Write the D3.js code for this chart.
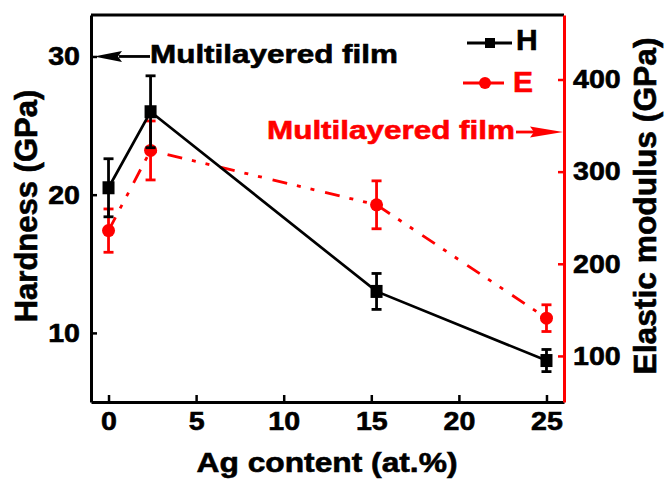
<!DOCTYPE html>
<html>
<head>
<meta charset="utf-8">
<script src="https://cdn.jsdelivr.net/npm/d3@7/dist/d3.min.js"></script>
<style>
  body { margin: 0; background: #fff; }
  text { font-family: "Liberation Sans", Arial, sans-serif; font-weight: bold; stroke-width: 0.6; }
</style>
</head>
<body>
<div class="chart-container"></div>
<script>
/********** the Data **********/
const agContent = [0, 2.4, 15.3, 25];
const hardness = [20.5, 26.0, 13.0, 8.0];
const hardnessErr = [2.1, 2.6, 1.3, 0.8];
const modulus = [236, 323, 264, 141];
const modulusErr = [23.5, 32, 26, 14.5];

const xTicks = [0, 5, 10, 15, 20, 25];
const hTicks = [10, 20, 30];
const eTicks = [100, 200, 300, 400];

// values of the multilayered film, pointed at by the arrows
const filmHardness = 30;
const filmModulus = 343;

/********** chart setup **********/
let width = 665, height = 479;
let margin = {top: 15, right: 101, bottom: 77, left: 91};

let svg = d3.select(".chart-container")
  .append("svg")
    .attr("width", width)
    .attr("height", height);

let xScale = d3.scaleLinear()
  .domain([-1, 26])
  .range([margin.left, width - margin.right]);

let yH = d3.scaleLinear()
  .domain([5, 33])
  .range([height - margin.bottom, margin.top]);

let yE = d3.scaleLinear()
  .domain([50, 470])
  .range([height - margin.bottom, margin.top]);

let pts = agContent.map((x, i) => ({
  x: x, h: hardness[i], he: hardnessErr[i], e: modulus[i], ee: modulusErr[i]
}));

// stretch tick labels a little to match the wide font of the original
function styleTicks(g, color) {
  g.selectAll("text")
    .attr("font-size", 26)
    .attr("font-family", "Liberation Sans, Arial, sans-serif")
    .attr("font-weight", "bold")
    .attr("fill", "#000")
    .attr("stroke", "#000")
    .each(function () {
      let len = this.getComputedTextLength();
      d3.select(this).attr("textLength", len * 1.1).attr("lengthAdjust", "spacingAndGlyphs");
    });
  g.selectAll("line").attr("stroke", color).attr("stroke-width", 2.5);
  g.select(".domain").attr("stroke", color).attr("stroke-width", 3);
}

/***** axes *****/
// top frame line
svg.append("line")
  .attr("x1", xScale.range()[0]).attr("x2", xScale.range()[1])
  .attr("y1", margin.top).attr("y2", margin.top)
  .attr("stroke", "#000").attr("stroke-width", 3);

svg.append("g")
  .attr("class", "x-axis")
  .attr("transform", `translate(0, ${height - margin.bottom})`)
  .call(d3.axisBottom(xScale).tickValues(xTicks).tickSizeInner(-7).tickSizeOuter(0).tickPadding(10))
  .call(g => styleTicks(g, "#000"));

svg.append("g")
  .attr("class", "y-axis-h")
  .attr("transform", `translate(${margin.left}, 0)`)
  .call(d3.axisLeft(yH).tickValues(hTicks).tickSizeInner(-6).tickSizeOuter(0).tickPadding(11))
  .call(g => styleTicks(g, "#000"));

svg.append("g")
  .attr("class", "y-axis-e")
  .attr("transform", `translate(${width - margin.right}, 0)`)
  .call(d3.axisRight(yE).tickValues(eTicks).tickSizeInner(-6).tickSizeOuter(0).tickPadding(9))
  .call(g => styleTicks(g, "#f00"));

// axis titles
svg.append("text")
  .attr("x", 327).attr("y", 472)
  .attr("text-anchor", "middle")
  .attr("font-size", 28)
  .attr("stroke", "#000")
  .attr("textLength", 261).attr("lengthAdjust", "spacingAndGlyphs")
  .text("Ag content (at.%)");

svg.append("text")
  .attr("transform", "translate(37, 206) rotate(-90)")
  .attr("text-anchor", "middle")
  .attr("font-size", 31)
  .attr("stroke", "#000")
  .text("Hardness (GPa)");

svg.append("text")
  .attr("transform", "translate(656, 206) rotate(-90)")
  .attr("text-anchor", "middle")
  .attr("font-size", 31)
  .attr("stroke", "#000")
  .attr("textLength", 337).attr("lengthAdjust", "spacingAndGlyphs")
  .text("Elastic modulus (GPa)");

/***** E series (red, dash-dot-dot) *****/
let lineE = d3.line().x(d => xScale(d.x)).y(d => yE(d.e));
svg.append("path")
  .datum(pts)
  .attr("d", lineE)
  .attr("fill", "none")
  .attr("stroke", "#f00")
  .attr("stroke-width", 2.8)
  .attr("stroke-dasharray", "15,10,4,10,4,11");

let errE = svg.append("g").attr("stroke", "#f00").attr("stroke-width", 2.8);
errE.selectAll(".bar").data(pts).enter().append("line")
  .attr("x1", d => xScale(d.x)).attr("x2", d => xScale(d.x))
  .attr("y1", d => yE(d.e - d.ee)).attr("y2", d => yE(d.e + d.ee));
errE.selectAll(".capT").data(pts).enter().append("line")
  .attr("x1", d => xScale(d.x) - 5).attr("x2", d => xScale(d.x) + 5)
  .attr("y1", d => yE(d.e + d.ee)).attr("y2", d => yE(d.e + d.ee));
errE.selectAll(".capB").data(pts).enter().append("line")
  .attr("x1", d => xScale(d.x) - 5).attr("x2", d => xScale(d.x) + 5)
  .attr("y1", d => yE(d.e - d.ee)).attr("y2", d => yE(d.e - d.ee));

svg.selectAll(".dotE").data(pts).enter().append("circle")
  .attr("cx", d => xScale(d.x))
  .attr("cy", d => yE(d.e))
  .attr("r", 6.5)
  .attr("fill", "#f00");

/***** H series (black, solid) *****/
let lineH = d3.line().x(d => xScale(d.x)).y(d => yH(d.h));
svg.append("path")
  .datum(pts)
  .attr("d", lineH)
  .attr("fill", "none")
  .attr("stroke", "#000")
  .attr("stroke-width", 2.7);

let errH = svg.append("g").attr("stroke", "#000").attr("stroke-width", 2.8);
errH.selectAll(".bar").data(pts).enter().append("line")
  .attr("x1", d => xScale(d.x)).attr("x2", d => xScale(d.x))
  .attr("y1", d => yH(d.h - d.he)).attr("y2", d => yH(d.h + d.he));
errH.selectAll(".capT").data(pts).enter().append("line")
  .attr("x1", d => xScale(d.x) - 5).attr("x2", d => xScale(d.x) + 5)
  .attr("y1", d => yH(d.h + d.he)).attr("y2", d => yH(d.h + d.he));
errH.selectAll(".capB").data(pts).enter().append("line")
  .attr("x1", d => xScale(d.x) - 5).attr("x2", d => xScale(d.x) + 5)
  .attr("y1", d => yH(d.h - d.he)).attr("y2", d => yH(d.h - d.he));

svg.selectAll(".sqH").data(pts).enter().append("rect")
  .attr("x", d => xScale(d.x) - 6)
  .attr("y", d => yH(d.h) - 6.5)
  .attr("width", 12).attr("height", 13)
  .attr("fill", "#000");

/***** annotations: arrows to the film values *****/
let yFilmH = yH(filmHardness);
let xLeft = xScale.range()[0];
svg.append("line")
  .attr("x1", xLeft + 28).attr("x2", xLeft + 59)
  .attr("y1", yFilmH).attr("y2", yFilmH)
  .attr("stroke", "#000").attr("stroke-width", 2.8);
svg.append("path")
  .attr("d", `M${xLeft + 3},${yFilmH} L${xLeft + 31},${yFilmH - 5.5} L${xLeft + 27},${yFilmH} L${xLeft + 31},${yFilmH + 5.5} Z`)
  .attr("fill", "#000");
svg.append("text")
  .attr("x", 150).attr("y", yFilmH + 7)
  .attr("font-size", 26)
  .attr("stroke", "#000")
  .attr("textLength", 248).attr("lengthAdjust", "spacingAndGlyphs")
  .text("Multilayered film");

let yFilmE = yE(filmModulus);
let xRight = xScale.range()[1];
svg.append("line")
  .attr("x1", xRight - 48).attr("x2", xRight - 30)
  .attr("y1", yFilmE).attr("y2", yFilmE)
  .attr("stroke", "#f00").attr("stroke-width", 2.8);
svg.append("path")
  .attr("d", `M${xRight - 1},${yFilmE} L${xRight - 34},${yFilmE - 5.5} L${xRight - 30},${yFilmE} L${xRight - 34},${yFilmE + 5.5} Z`)
  .attr("fill", "#f00");
svg.append("text")
  .attr("x", 267).attr("y", yFilmE + 7)
  .attr("font-size", 26)
  .attr("fill", "#f00").attr("stroke", "#f00")
  .attr("textLength", 248).attr("lengthAdjust", "spacingAndGlyphs")
  .text("Multilayered film");

/***** legend *****/
let legend = svg.append("g").attr("class", "legend");
let lgH = legend.append("g").attr("transform", "translate(467, 43)");
lgH.append("line").attr("x1", 0).attr("x2", 45).attr("y1", 0).attr("y2", 0)
  .attr("stroke", "#000").attr("stroke-width", 3);
lgH.append("rect").attr("x", 18).attr("y", -5).attr("width", 10).attr("height", 10).attr("fill", "#000");
lgH.append("text").attr("x", 49).attr("y", 7).attr("font-size", 30).attr("stroke", "#000").text("H");

let lgE = legend.append("g").attr("transform", "translate(463, 83)");
lgE.append("line").attr("x1", 0).attr("x2", 41).attr("y1", 0).attr("y2", 0)
  .attr("stroke", "#f00").attr("stroke-width", 3);
lgE.append("circle").attr("cx", 22).attr("cy", 0).attr("r", 6).attr("fill", "#f00");
lgE.append("text").attr("x", 50).attr("y", 8.5).attr("font-size", 30)
  .attr("fill", "#f00").attr("stroke", "#f00").text("E");
</script>
</body>
</html>
